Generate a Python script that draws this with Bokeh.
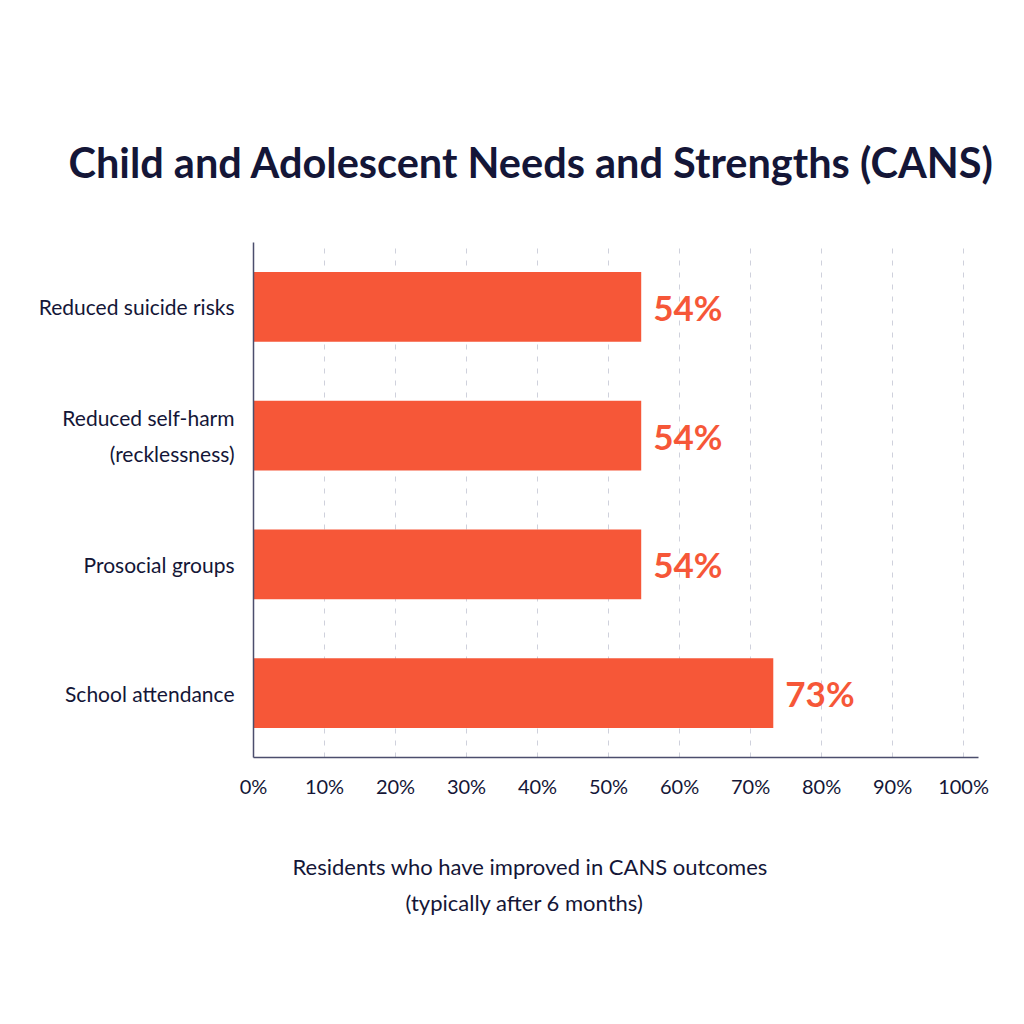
from bokeh.plotting import figure
from bokeh.models import ColumnDataSource, FactorRange, Range1d, Title, FixedTicker, CustomJSTickFormatter
from bokeh.core.properties import value
from bokeh.embed import file_html
from bokeh.resources import INLINE

categories = ["Reduced suicide risks", "Reduced self-harm\n(recklessness)", "Prosocial groups", "School attendance"]
values = [54.6, 54.6, 54.6, 73.2]
value_labels = ["54%", "54%", "54%", "73%"]
tick_values = [0, 10, 20, 30, 40, 50, 60, 70, 80, 90, 100]
title_text = "Child and Adolescent Needs and Strengths (CANS)"
xlabel_lines = ["Residents who have improved in CANS outcomes", "(typically after 6 months)"]

NAVY = "#141637"
ORANGE = "#F65738"
FONT = "Lato"

src = ColumnDataSource(dict(cat=categories, val=values, lab=value_labels))

p = figure(width=1024, height=1024, output_backend="svg", toolbar_location=None,
           y_range=FactorRange(*categories[::-1], range_padding=0),
           x_range=Range1d(0, 102.1),
           min_border_left=253, min_border_right=46, min_border_top=242, min_border_bottom=267)
p.outline_line_color = None
p.background_fill_color = "white"
p.border_fill_color = "white"

p.hbar(y="cat", right="val", height=0.54, left=0, source=src, color=ORANGE, line_color=None)
p.text(x="val", y="cat", text="lab", source=src, x_offset=12, text_baseline="middle",
       text_align="left", text_color=ORANGE, text_font=value(FONT), text_font_style="bold",
       text_font_size="35px")

p.xaxis.ticker = FixedTicker(ticks=tick_values)
p.xaxis.formatter = CustomJSTickFormatter(code="return tick + '%';")
p.xaxis.major_tick_line_color = None
p.xaxis.minor_tick_line_color = None
p.xaxis.axis_line_color = "#4b4e6d"
p.xaxis.axis_line_width = 1.5
p.xaxis.major_label_text_font = FONT
p.xaxis.major_label_text_font_size = "20px"
p.xaxis.major_label_text_color = NAVY
p.xaxis.major_label_standoff = 10

p.yaxis.major_tick_line_color = None
p.yaxis.minor_tick_line_color = None
p.yaxis.axis_line_color = "#4b4e6d"
p.yaxis.axis_line_width = 1.5
p.yaxis.major_label_text_font = FONT
p.yaxis.major_label_text_font_size = "21px"
p.yaxis.major_label_text_color = NAVY
p.yaxis.major_label_text_line_height = 1.45
p.yaxis.major_label_standoff = 13

p.xgrid.ticker = FixedTicker(ticks=tick_values[1:])
p.xgrid.grid_line_color = "#cfd1dc"
p.xgrid.grid_line_dash = "5 7"
p.xgrid.grid_line_width = 1
p.ygrid.grid_line_color = None

p.title.text = title_text
p.title.align = "left"
p.title.offset = -185
p.title.standoff = 111
p.title.text_color = NAVY
p.title.text_font = FONT
p.title.text_font_style = "bold"
p.title.text_font_size = "41.5px"

p.add_layout(Title(text=xlabel_lines[0], align="left", offset=39, standoff=-158,
                   text_color=NAVY, text_font=FONT, text_font_style="normal",
                   text_font_size="22px"), "below")
p.add_layout(Title(text=xlabel_lines[1], align="left", offset=152, standoff=172,
                   text_color=NAVY, text_font=FONT, text_font_style="normal",
                   text_font_size="22px"), "below")

open("out.html", "w").write(file_html(p, INLINE))
